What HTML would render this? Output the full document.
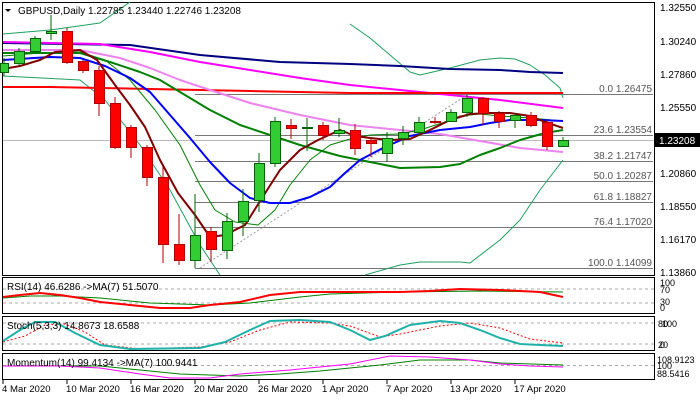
<!DOCTYPE html>
<html><head><meta charset="utf-8"><style>
html,body{margin:0;padding:0;background:#fff;}
svg{display:block;font-family:"Liberation Sans","DejaVu Sans",sans-serif;}
text{font-size:10px;fill:#000;}
.f{font-size:10px;fill:#555;text-anchor:end;}
.d{font-size:9.6px;}
</style></head><body>
<svg width="700" height="400" viewBox="0 0 700 400" xmlns="http://www.w3.org/2000/svg">
<rect width="700" height="400" fill="#fff"/>
<rect x="2.5" y="2.5" width="652" height="273" fill="none" stroke="#000"/>
<rect x="2.5" y="277.5" width="652" height="36" fill="none" stroke="#000"/>
<rect x="2.5" y="316.5" width="652" height="34" fill="none" stroke="#000"/>
<rect x="2.5" y="353.5" width="652" height="26" fill="none" stroke="#000"/>
<g stroke="#777" stroke-width="1">
<line x1="195" y1="94.5" x2="653" y2="94.5"/>
<line x1="195" y1="135.5" x2="653" y2="135.5"/>
<line x1="195" y1="161.5" x2="653" y2="161.5"/>
<line x1="195" y1="181.5" x2="653" y2="181.5"/>
<line x1="195" y1="202.5" x2="653" y2="202.5"/>
<line x1="195" y1="227.5" x2="653" y2="227.5"/>
<line x1="195" y1="268.5" x2="653" y2="268.5"/>
</g>
<line x1="3" y1="140.5" x2="654" y2="140.5" stroke="#bbb"/>
<text class="f" x="652" y="92">0.0 1.26475</text>
<text class="f" x="652" y="133">23.6 1.23554</text>
<text class="f" x="652" y="159">38.2 1.21747</text>
<text class="f" x="652" y="179">50.0 1.20287</text>
<text class="f" x="652" y="200">61.8 1.18827</text>
<text class="f" x="652" y="225">76.4 1.17020</text>
<text class="f" x="652" y="266">100.0 1.14099</text>
<line x1="200" y1="268" x2="467" y2="95" stroke="#99a" stroke-dasharray="2,2"/>
<g fill="none" stroke-linejoin="round">
<polyline stroke="#1fa060" stroke-width="1" points="3,34 50,30 100,23 130,2"/>
<polyline stroke="#1fa060" stroke-width="1" points="350,24 370,38 390,55 410,72 420,75 450,68 480,60 500,58 515,59 530,65 545,75 560,88 563,98"/>
<polyline stroke="#1fa060" stroke-width="1" points="3,76 80,80 105,100 140,145 170,190 200,245 220,275"/>
<polyline stroke="#1fa060" stroke-width="1" points="365,275 400,265 420,262 460,262 470,263 500,240 520,220 540,190 563,160"/>
<polyline stroke="#000080" stroke-width="2" points="3,43 130,45 200,55 280,62 350,64 400,66 450,69 500,70 530,72 563,73"/>
<polyline stroke="#ff00ff" stroke-width="2" points="3,42 100,44 150,52 200,62 250,70 300,78 350,85 400,90 450,95 500,100 563,108"/>
<polyline stroke="#ff0000" stroke-width="2" points="3,87 50,87 100,88 150,89 200,90 250,91 350,93 563,93"/>
<polyline stroke="#ee82ee" stroke-width="2" points="3,50 80,50 120,58 150,68 180,80 210,90 250,103 300,115 350,125 400,130 440,134 480,141 520,148 563,152"/>
<polyline stroke="#008000" stroke-width="2" points="3,53 80,53 110,62 140,72 160,80 180,92 210,110 240,125 270,135 300,145 340,156 370,162 400,168 440,167 460,164 480,155 500,148 520,140 545,133 563,130"/>
<polyline stroke="#008000" stroke-width="1" points="3,56 40,53 80,52 105,60 130,80 155,110 180,145 200,185 215,210 235,222 258,225 275,210 290,185 310,160 330,145 350,139 370,135 400,134 420,130 445,122 460,116 480,114 500,116 530,118 563,121"/>
<polyline stroke="#0000ff" stroke-width="2" points="3,60 50,57 80,58 105,66 130,78 150,92 170,115 190,138 210,162 230,183 250,198 270,203 290,203 310,197 330,187 345,173 360,160 383,148 410,136 440,130 470,127 490,123 510,120 540,120 563,121"/>
<polyline stroke="#800000" stroke-width="2" points="3,69 20,66 40,60 55,52 80,50 97,60 115,85 130,105 145,127 160,160 178,193 195,215 210,237 225,235 245,225 262,198 280,170 300,150 318,140 340,130 355,136 370,138 390,140 410,139 430,130 450,120 470,114 490,113 510,113 530,116 545,122 563,128"/>
</g>
<g stroke-width="1">
<g fill="#32cd32" stroke="#006400">
<line x1="4" y1="58" x2="4" y2="76"/><rect x="0.5" y="63.5" width="8" height="9"/>
<line x1="19" y1="48" x2="19" y2="66"/><rect x="14.5" y="51.5" width="10" height="12"/>
<line x1="35" y1="36" x2="35" y2="54"/><rect x="30.5" y="38.5" width="10" height="13"/>
<line x1="51" y1="15" x2="51" y2="40"/><rect x="46.5" y="31.5" width="10" height="2"/>
<line x1="195" y1="194" x2="195" y2="268"/><rect x="190.5" y="235.5" width="10" height="25"/>
<line x1="227" y1="213" x2="227" y2="259"/><rect x="222.5" y="221.5" width="10" height="29"/>
<line x1="243" y1="189" x2="243" y2="236"/><rect x="238.5" y="201.5" width="10" height="20"/>
<line x1="259" y1="153" x2="259" y2="212"/><rect x="254.5" y="163.5" width="10" height="37"/>
<line x1="275" y1="117" x2="275" y2="167"/><rect x="270.5" y="121.5" width="10" height="42"/>
<line x1="307" y1="118" x2="307" y2="151"/><rect x="302.5" y="127.5" width="10" height="1"/>
<line x1="339" y1="118" x2="339" y2="137"/><rect x="334.5" y="130.5" width="10" height="3"/>
<line x1="387" y1="132" x2="387" y2="162"/><rect x="382.5" y="138.5" width="10" height="15"/>
<line x1="403" y1="126" x2="403" y2="145"/><rect x="398.5" y="132.5" width="10" height="6"/>
<line x1="419" y1="117" x2="419" y2="136"/><rect x="414.5" y="122.5" width="10" height="10"/>
<line x1="451" y1="109" x2="451" y2="122"/><rect x="446.5" y="112.5" width="10" height="9"/>
<line x1="467" y1="95" x2="467" y2="117"/><rect x="462.5" y="98.5" width="10" height="14"/>
<line x1="515" y1="113" x2="515" y2="128"/><rect x="510.5" y="115.5" width="10" height="5"/>
<line x1="563" y1="137" x2="563" y2="146"/><rect x="558.5" y="140.5" width="10" height="6"/>
</g>
<g fill="#ff0000" stroke="#b00000">
<line x1="67" y1="28" x2="67" y2="64"/><rect x="62.5" y="31.5" width="10" height="31"/>
<line x1="83" y1="60" x2="83" y2="73"/><rect x="78.5" y="61.5" width="10" height="9"/>
<line x1="99" y1="66" x2="99" y2="116"/><rect x="94.5" y="70.5" width="10" height="33"/>
<line x1="115" y1="97" x2="115" y2="149"/><rect x="110.5" y="103.5" width="10" height="44"/>
<line x1="131" y1="125" x2="131" y2="158"/><rect x="126.5" y="127.5" width="10" height="20"/>
<line x1="147" y1="145" x2="147" y2="186"/><rect x="142.5" y="147.5" width="10" height="30"/>
<line x1="163" y1="167" x2="163" y2="263"/><rect x="158.5" y="177.5" width="10" height="67"/>
<line x1="179" y1="214" x2="179" y2="265"/><rect x="174.5" y="244.5" width="10" height="16"/>
<line x1="211" y1="227" x2="211" y2="262"/><rect x="206.5" y="231.5" width="10" height="18"/>
<line x1="291" y1="119" x2="291" y2="139"/><rect x="286.5" y="125.5" width="10" height="3"/>
<line x1="323" y1="122" x2="323" y2="140"/><rect x="318.5" y="125.5" width="10" height="10"/>
<line x1="355" y1="124" x2="355" y2="155"/><rect x="350.5" y="130.5" width="10" height="18"/>
<line x1="371" y1="138" x2="371" y2="157"/><rect x="366.5" y="140.5" width="10" height="3"/>
<line x1="435" y1="117" x2="435" y2="124"/><rect x="430.5" y="121.5" width="10" height="1"/>
<line x1="483" y1="97" x2="483" y2="125"/><rect x="478.5" y="98.5" width="10" height="15"/>
<line x1="499" y1="111" x2="499" y2="128"/><rect x="494.5" y="113.5" width="10" height="8"/>
<line x1="531" y1="112" x2="531" y2="127"/><rect x="526.5" y="115.5" width="10" height="10"/>
<line x1="547" y1="120" x2="547" y2="150"/><rect x="542.5" y="122.5" width="10" height="24"/>
</g>
</g>
<polygon points="5,9 11,9 8,12" fill="#000"/>
<text x="18" y="14">GBPUSD,Daily  1.22785 1.23440 1.22746 1.23208</text>
<text x="660" y="11">1.32550</text>
<text x="660" y="45">1.30240</text>
<text x="660" y="78">1.27860</text>
<text x="660" y="111">1.25550</text>
<rect x="655" y="133" width="45" height="14" fill="#000"/>
<text x="659" y="144" style="fill:#fff">1.23208</text>
<text x="660" y="177">1.20860</text>
<text x="660" y="210">1.18550</text>
<text x="660" y="243">1.16170</text>
<text x="660" y="276">1.13860</text>
<g stroke="#aaa" stroke-dasharray="3,3"><line x1="3" y1="289" x2="654" y2="289"/><line x1="3" y1="303" x2="654" y2="303"/>
<line x1="3" y1="323" x2="654" y2="323"/><line x1="3" y1="344" x2="654" y2="344"/><line x1="3" y1="365.5" x2="654" y2="365.5"/></g>
<polyline fill="none" stroke="#008000" stroke-width="1" points="3,298 30,296 60,296 100,298 150,303 210,305 250,303 300,297 330,294 400,292 480,291 563,292"/>
<polyline fill="none" stroke="#ff0000" stroke-width="2" points="3,297 20,295 40,293 60,295 80,298 100,302 130,305 160,308 190,308 210,305 240,302 270,295 300,292 350,292 400,292 430,291 460,289 500,290 540,292 563,297"/>
<text x="7" y="290">RSI(14) 46.6286  -&gt;MA(7) 51.5070</text>
<text x="660" y="286" style="font-size:9px">100</text><text x="660" y="293" style="font-size:9px">70</text>
<text x="660" y="305" style="font-size:9px">30</text><text x="660" y="311" style="font-size:9px">0</text>
<polyline fill="none" stroke="#ff0000" stroke-dasharray="2,2" points="3,342 25,336 45,325 65,324 85,332 105,345 140,349 200,347 230,342 260,330 290,322 330,323 350,326 380,337 400,334 440,326 470,323 500,328 530,339 563,343"/>
<polyline fill="none" stroke="#20b2aa" stroke-width="2" points="3,341 20,330 35,322 55,322 75,333 100,345 130,349 200,348 225,342 250,330 270,321 300,320 330,322 350,330 370,340 385,336 410,325 440,321 460,323 480,330 500,338 520,344 540,345 563,346"/>
<text x="7" y="329">Stoch(5,3,3) 14.8673 18.6588</text>
<text x="658" y="327" style="font-size:9px">80</text><text x="662" y="327" style="font-size:9px">100</text>
<text x="658" y="348" style="font-size:9px">20</text><text x="660" y="348" style="font-size:9px">0</text>
<polyline fill="none" stroke="#008000" stroke-width="1" points="3,366 100,366 140,370 180,374 240,376 280,374 320,371 350,368 380,365 420,360 470,360 500,363 563,365"/>
<polyline fill="none" stroke="#ff00ff" stroke-width="1" points="3,366 60,366 100,368 140,374 170,378 210,378 240,374 290,370 330,366 350,364 390,356 430,357 470,360 500,364 530,366 563,367"/>
<text x="7" y="366">Momentum(14) 99.4134  -&gt;MA(7) 100.9441</text>
<text x="657" y="363" style="font-size:9px">108.9123</text><text x="657" y="369" style="font-size:9px">100</text><text x="657" y="377" style="font-size:9px">88.5416</text>
<g stroke="#000">
<line x1="3" y1="380" x2="3" y2="384"/><line x1="67" y1="380" x2="67" y2="384"/><line x1="131" y1="380" x2="131" y2="384"/>
<line x1="195" y1="380" x2="195" y2="384"/><line x1="259" y1="380" x2="259" y2="384"/><line x1="323" y1="380" x2="323" y2="384"/>
<line x1="387" y1="380" x2="387" y2="384"/><line x1="451" y1="380" x2="451" y2="384"/><line x1="515" y1="380" x2="515" y2="384"/>
</g>
<text class="d" x="2" y="392">4 Mar 2020</text>
<text class="d" x="66" y="392">10 Mar 2020</text>
<text class="d" x="130" y="392">16 Mar 2020</text>
<text class="d" x="194" y="392">20 Mar 2020</text>
<text class="d" x="258" y="392">26 Mar 2020</text>
<text class="d" x="322" y="392">1 Apr 2020</text>
<text class="d" x="386" y="392">7 Apr 2020</text>
<text class="d" x="450" y="392">13 Apr 2020</text>
<text class="d" x="514" y="392">17 Apr 2020</text>
</svg>
</body></html>
